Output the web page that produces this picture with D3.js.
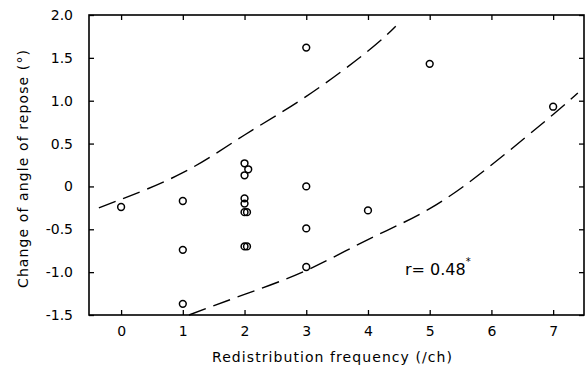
<!DOCTYPE html>
<html>
<head>
<meta charset="utf-8">
<script src="https://cdn.jsdelivr.net/npm/d3@7"></script>
<style>
  html, body { margin: 0; padding: 0; background: #fff; }
  svg { display: block; font-family: 'DejaVu Sans', 'Liberation Sans', sans-serif; }
</style>
</head>
<body>
<div id="chart"></div>
<script>
// observed points: redistribution frequency vs change of angle of repose
const freq = [0, 1, 1, 1, 2, 2.06, 2, 2, 2, 2, 2.04, 2, 2.04, 3, 3, 3, 3, 4, 5, 7];
const change = [-0.24, -0.17, -0.74, -1.37, 0.27, 0.2, 0.13, -0.14, -0.2, -0.3, -0.3, -0.7, -0.7, 1.62, 0.0, -0.49, -0.94, -0.28, 1.43, 0.93];

// dashed envelope curves
const upperX = [-0.36, 0, 1, 2, 3, 4, 4.45];
const upperY = [-0.25, -0.15, 0.16, 0.6, 1.05, 1.58, 1.87];
const lowerX = [1.1, 2, 3, 4, 5, 6, 7, 7.4];
const lowerY = [-1.5, -1.26, -0.98, -0.62, -0.26, 0.25, 0.84, 1.09];

const xTicks = [0, 1, 2, 3, 4, 5, 6, 7];
const yTicks = [2.0, 1.5, 1.0, 0.5, 0, -0.5, -1.0, -1.5];
const yTickLabels = ['2.0', '1.5', '1.0', '0.5', '0', '-0.5', '-1.0', '-1.5'];

const width = 588, height = 372;
const margin = { top: 15, right: 4, bottom: 57, left: 89 };

const svg = d3.select('#chart').append('svg')
  .attr('width', width)
  .attr('height', height);

const x = d3.scaleLinear().domain([-0.52, 7.5]).range([margin.left, width - margin.right]);
const y = d3.scaleLinear().domain([-1.5, 2.0]).range([height - margin.bottom, margin.top]);

// frame
svg.append('rect')
  .attr('x', x.range()[0]).attr('y', y.range()[1])
  .attr('width', x.range()[1] - x.range()[0])
  .attr('height', y.range()[0] - y.range()[1])
  .attr('fill', 'none').attr('stroke', '#000').attr('stroke-width', 1.6);

// inward ticks on all four sides
const tickLen = 5;
function styleAxis(g) {
  g.select('.domain').remove();
  g.selectAll('.tick line').attr('stroke', '#000').attr('stroke-width', 1.3);
}

svg.append('g')
  .attr('transform', `translate(0,${y.range()[0]})`)
  .call(d3.axisBottom(x).tickValues(xTicks).tickSize(-tickLen).tickPadding(11).tickFormat(d3.format('d')))
  .call(styleAxis)
  .call(g => g.selectAll('text').attr('font-size', 14).attr('font-family', 'DejaVu Sans').attr('fill', '#000'));

svg.append('g')
  .attr('transform', `translate(0,${y.range()[1]})`)
  .call(d3.axisTop(x).tickValues(xTicks).tickSize(-tickLen).tickFormat(''))
  .call(styleAxis);

svg.append('g')
  .attr('transform', `translate(${x.range()[0]},0)`)
  .call(d3.axisLeft(y).tickValues(yTicks).tickSize(-tickLen).tickPadding(16)
    .tickFormat((d, i) => yTickLabels[i]))
  .call(styleAxis)
  .call(g => g.selectAll('text').attr('font-size', 14).attr('font-family', 'DejaVu Sans').attr('fill', '#000'));

svg.append('g')
  .attr('transform', `translate(${x.range()[1]},0)`)
  .call(d3.axisRight(y).tickValues(yTicks).tickSize(-tickLen).tickFormat(''))
  .call(styleAxis);

// dashed curves
const line = d3.line().x(d => x(d[0])).y(d => y(d[1])).curve(d3.curveNatural);
[[upperX, upperY], [lowerX, lowerY]].forEach(([xs, ys]) => {
  svg.append('path')
    .datum(xs.map((v, i) => [v, ys[i]]))
    .attr('d', line)
    .attr('fill', 'none')
    .attr('stroke', '#000')
    .attr('stroke-width', 1.4)
    .attr('stroke-dasharray', '18,8');
});

// points
svg.append('g').selectAll('circle')
  .data(freq.map((v, i) => [v, change[i]]))
  .join('circle')
  .attr('cx', d => x(d[0]))
  .attr('cy', d => y(d[1]))
  .attr('r', 3.4)
  .attr('fill', 'none')
  .attr('stroke', '#000')
  .attr('stroke-width', 1.5);

// annotation
const ann = svg.append('text')
  .attr('x', 405).attr('y', 275)
  .attr('font-size', 16).attr('fill', '#000');
ann.append('tspan').text('r= 0.48');
ann.append('tspan').attr('dy', -10).attr('font-size', 10).text('*');

// axis titles
svg.append('text')
  .attr('x', 332)
  .attr('y', 362)
  .attr('text-anchor', 'middle')
  .attr('font-size', 14)
  .attr('textLength', 240)
  .attr('lengthAdjust', 'spacing')
  .attr('fill', '#000')
  .text('Redistribution frequency (/ch)');

svg.append('text')
  .attr('transform', `translate(28,169) rotate(-90)`)
  .attr('text-anchor', 'middle')
  .attr('font-size', 14)
  .attr('textLength', 238)
  .attr('lengthAdjust', 'spacing')
  .attr('fill', '#000')
  .text('Change of angle of repose (°)');
</script>
</body>
</html>
